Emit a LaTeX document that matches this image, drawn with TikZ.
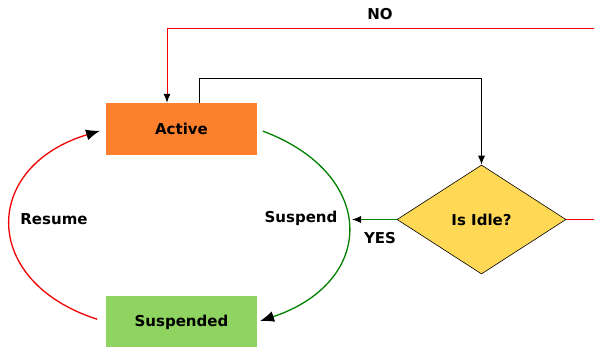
\documentclass[tikz,border=0pt]{standalone}
\usepackage{fontspec}
\setsansfont{DejaVu Sans}
\usetikzlibrary{shapes.geometric,arrows.meta}

\definecolor{activeorange}{RGB}{253,128,45}
\definecolor{suspgreen}{RGB}{143,211,96}
\definecolor{idleyellow}{RGB}{255,217,85}
\definecolor{linegreen}{RGB}{0,128,0}
\definecolor{linered}{RGB}{240,0,0}

\newcommand*{\lblfont}{\sffamily\bfseries\fontsize{15}{18}\selectfont}

\begin{document}
\begin{tikzpicture}[
		x=1pt,y=1pt,
		statebox/.style={rectangle,inner sep=0pt,minimum width=151pt,minimum height=52pt,font=\lblfont},
		decision/.style={diamond,draw=black,line width=0.6pt,fill=idleyellow,inner sep=0pt,
			minimum width=169pt,minimum height=109pt,aspect=1.55,font=\lblfont},
		flow/.style={line width=1pt,-{Latex[black,length=9pt,width=7pt]}},
		curved/.style={line width=1.3pt,-{Latex[black,length=14pt,width=11pt]}},
		lbl/.style={font=\lblfont,inner sep=0pt},
]

\def\boxX{181.5}
\def\idleX{481.5}
\def\idleY{127.5}

\clip (0,0) rectangle (594,347);

\node [statebox,fill=activeorange] (act) at (\boxX,218) {Active};
\node [statebox,fill=suspgreen] (susp) at (\boxX,25) {Suspended};
\node [decision] (idle) at (\idleX,\idleY) {Is Idle?};

% check loop
\coordinate (chk) at (\idleX,268);
\draw [flow] ([xshift=17.5pt]act.north) |- (chk) -- (idle.north);

% NO goes back to Active
\coordinate (noturn) at (620,318);
\draw [color=linered,flow] (idle.east) -| (noturn) -| ([xshift=-14.5pt]act.north);
\node [lbl] (nolbl) at (380,333) {NO};

% YES goes to Suspend
\coordinate (yesend) at (352,\idleY);
\draw [color=linegreen,flow] (idle.west) -- (yesend);
\node [lbl] (yeslbl) at (380,109) {YES};

\draw [color=linegreen,curved,shorten <=6pt,shorten >=3pt]
	(act.east) .. controls +(120,-45) and +(120,40) .. (susp.east);
\node [lbl] (susplbl) at (301,129) {Suspend};

\draw [color=linered,curved,shorten <=9pt,shorten >=6pt]
	(susp.west) .. controls +(-125,40) and +(-125,-38) .. (act.west);
\node [lbl] (reslbl) at (54,128) {Resume};

\end{tikzpicture}
\end{document}
